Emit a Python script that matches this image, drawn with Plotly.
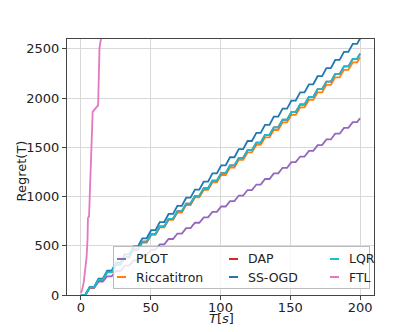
import plotly.graph_objects as go

# step times in seconds: each step stays flat from step_start to step_end, then rises
step_start = [0.0, 6.3, 12.6, 18.8, 25.1, 31.4, 37.7, 44.0, 50.3, 56.5, 62.8, 69.1,
              75.4, 81.7, 88.0, 94.2, 100.5, 106.8, 113.1, 119.4, 125.7, 131.9, 138.2,
              144.5, 150.8, 157.1, 163.4, 169.6, 175.9, 182.2, 188.5, 194.8]
step_end = [3.1, 9.4, 15.7, 22.0, 28.3, 34.6, 40.8, 47.1, 53.4, 59.7, 66.0, 72.3,
            78.5, 84.8, 91.1, 97.4, 103.7, 110.0, 116.2, 122.5, 128.8, 135.1, 141.4,
            147.7, 153.9, 160.2, 166.5, 172.8, 179.1, 185.4, 191.6, 197.9]
t_last = 200

# plateau level of every step, plus the value at the last time
plot_levels = [0, 70, 135, 190, 244, 298, 352, 406, 460, 514, 569, 624, 679, 734, 789, 844,
               899, 954, 1010, 1066, 1122, 1178, 1235, 1292, 1349, 1406, 1464, 1522, 1580,
               1638, 1697, 1756]
plot_last = 1795
ricc_levels = [0, 76, 152, 229, 305, 381, 457, 533, 610, 686, 762, 838, 914, 991, 1067, 1143,
               1219, 1295, 1372, 1448, 1524, 1600, 1676, 1753, 1829, 1905, 1981, 2057, 2134,
               2210, 2286, 2362]
ricc_last = 2413
lqr_levels = [0, 77, 155, 232, 310, 387, 464, 542, 619, 697, 774, 851, 929, 1006, 1084, 1161,
              1238, 1316, 1393, 1471, 1548, 1625, 1703, 1780, 1858, 1935, 2012, 2090, 2167,
              2245, 2322, 2399]
lqr_last = 2451
# DAP sits exactly under LQR in the reference
dap_levels = [0, 77, 155, 232, 310, 387, 464, 542, 619, 697, 774, 851, 929, 1006, 1084, 1161,
              1238, 1316, 1393, 1471, 1548, 1625, 1703, 1780, 1858, 1935, 2012, 2090, 2167,
              2245, 2322, 2399]
dap_last = 2451
ssogd_levels = [0, 82, 165, 247, 329, 412, 494, 576, 658, 741, 823, 905, 988, 1070, 1152, 1235,
                1317, 1399, 1481, 1564, 1646, 1728, 1811, 1893, 1975, 2058, 2140, 2222, 2304,
                2387, 2469, 2551]
ssogd_last = 2606

ftl_t = [0, 1, 2, 3, 4, 4.7, 5.0, 5.8, 7.5, 8.4, 10.4, 12.3, 13.3, 14.6, 16.0]
ftl_r = [20, 60, 130, 240, 380, 560, 780, 800, 1600, 1860, 1895, 1925, 2510, 2600, 2750]

# plot area in pixels (left, top, right, bottom)
L, T, R, B = 67, 39, 374, 295


def px(x):
    return (x - L) / (R - L)


def py(y):
    return (B - y) / (B - T)


def stairs(levels, last):
    xs, ys = [], []
    for a, b, v in zip(step_start, step_end, levels):
        xs += [a, b]
        ys += [v, v]
    xs.append(t_last)
    ys.append(last)
    return xs, ys


series = [
    ("PLOT", plot_levels, plot_last, "#9467bd"),
    ("Riccatitron", ricc_levels, ricc_last, "#ff7f0e"),
    ("DAP", dap_levels, dap_last, "#d62728"),
    ("SS-OGD", ssogd_levels, ssogd_last, "#1f77b4"),
    ("LQR", lqr_levels, lqr_last, "#17becf"),
]

fig = go.Figure()
for name, levels, last, color in series:
    x, y = stairs(levels, last)
    fig.add_trace(go.Scatter(x=x, y=y, mode="lines", name=name,
                             line=dict(color=color, width=1.8)))
fig.add_trace(go.Scatter(x=ftl_t, y=ftl_r, mode="lines", name="FTL",
                         line=dict(color="#e377c2", width=1.8)))

axis_style = dict(
    showline=True, mirror=True, linecolor="#444", linewidth=1,
    showgrid=True, gridcolor="#d9d9d9", gridwidth=1.2, zeroline=False,
    ticks="outside", ticklen=4, tickcolor="#444", automargin=False,
    tickfont=dict(family="DejaVu Sans", size=13, color="#222"),
)

fig.update_layout(
    width=415, height=332,
    margin=dict(l=L, r=415 - R, t=T, b=332 - B),
    plot_bgcolor="white", paper_bgcolor="white",
    font=dict(family="DejaVu Sans", size=13, color="#222"),
    xaxis=dict(range=[-10, 210], tickvals=[0, 50, 100, 150, 200],
               ticklabelstandoff=-4, **axis_style),
    yaxis=dict(range=[0, 2600], tickvals=[0, 500, 1000, 1500, 2000, 2500], **axis_style),
    showlegend=False,
)

# legend drawn by hand, matplotlib style: translucent box, 3 columns, short handles
fig.add_annotation(text=" ", xref="paper", yref="paper", showarrow=False,
                   x=px(112.5), y=py(245.5), xanchor="left", yanchor="top",
                   width=255, height=41, borderpad=0, borderwidth=1,
                   bgcolor="rgba(255,255,255,0.82)", bordercolor="#bdbdbd")
cols = [(117, 134), (228.5, 245.5), (329.5, 347)]
rows = [258.5, 277]
order = [("PLOT", "#9467bd"), ("Riccatitron", "#ff7f0e"), ("DAP", "#d62728"),
         ("SS-OGD", "#1f77b4"), ("LQR", "#17becf"), ("FTL", "#e377c2")]
for i, (name, color) in enumerate(order):
    hx, tx = cols[i // 2]
    ry = rows[i % 2]
    fig.add_annotation(text=" ", xref="paper", yref="paper", showarrow=False,
                       x=px(hx), y=py(ry), xanchor="left", yanchor="middle",
                       width=8.5, height=2, borderpad=0, borderwidth=0,
                       bgcolor=color, font=dict(size=1))
    fig.add_annotation(text=name, xref="paper", yref="paper", x=px(tx), y=py(ry),
                       xanchor="left", yanchor="middle", showarrow=False,
                       font=dict(size=12.5, color="#222"))

fig.add_annotation(text="<i>T</i>[<i>s</i>]", xref="paper", yref="paper",
                   x=px(221.5), y=py(318.5), xanchor="center", yanchor="middle",
                   showarrow=False, font=dict(size=13, color="#222"))
fig.add_annotation(text="Regret(T)", xref="paper", yref="paper", textangle=-90,
                   x=px(21), y=py(171.5), xanchor="center", yanchor="middle",
                   showarrow=False, font=dict(size=13, color="#222"))

fig.write_html("out.html", config={"displayModeBar": False},
               post_script="document.body.style.margin='0';")
